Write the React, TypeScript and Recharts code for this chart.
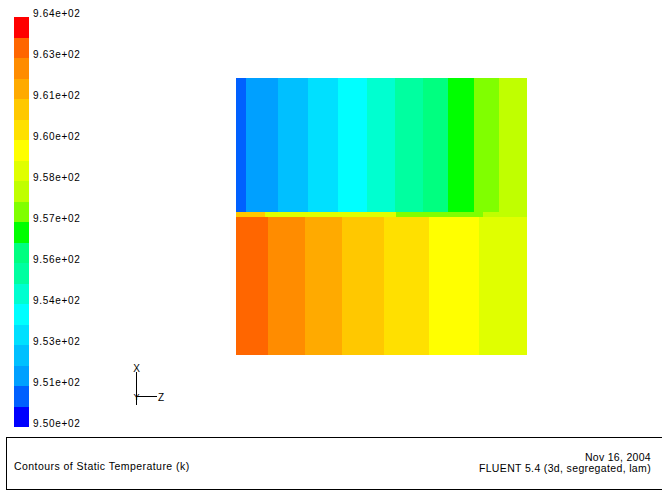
import React from 'react';
import { ComposedChart, XAxis, YAxis, ReferenceArea } from 'recharts';

// Temperature scale (K): 20 contour bands between min and max
const tempMin = 950.0;
const tempMax = 964.0;
const bandCount = 20;
const bandColors = [
  '#0000ff', '#0060ff', '#00a0ff', '#00c0ff', '#00e0ff',
  '#00ffff', '#00ffd0', '#00ffa0', '#00ff80', '#00ff00',
  '#80ff00', '#c0ff00', '#e0ff00', '#ffff00', '#ffe000',
  '#ffc800', '#ffaa00', '#ff8c00', '#ff6600', '#ff0000',
];
const legendTicks = [950.0, 951.4, 952.8, 954.2, 955.6, 957.0, 958.4, 959.8, 961.2, 962.6, 964.0];
const legendTickLabels = [
  '9.50e+02', '9.51e+02', '9.53e+02', '9.54e+02', '9.56e+02', '9.57e+02',
  '9.58e+02', '9.60e+02', '9.61e+02', '9.63e+02', '9.64e+02',
];

// Contour field (normalized z horizontal, x vertical); each cell holds a temperature band index
const upperZoneX = [0.515, 1.0];
const upperEdgesZ = [0, 0.036, 0.144, 0.247, 0.351, 0.450, 0.546, 0.643, 0.729, 0.818, 0.904, 1.0];
const upperBands = [1, 2, 3, 4, 5, 6, 7, 8, 9, 10, 11];

const interfaceZoneX = [0.499, 0.515];
const interfaceEdgesZ = [0, 0.1, 0.55, 0.85, 1.0];
const interfaceBands = [15, 12, 10, 11];

const lowerZoneX = [0, 0.499];
const lowerEdgesZ = [0, 0.110, 0.237, 0.364, 0.509, 0.663, 0.835, 1.0];
const lowerBands = [18, 17, 16, 15, 14, 13, 12];

const title = 'Contours of Static Temperature (k)';
const dateText = 'Nov 16, 2004';
const solverText = 'FLUENT 5.4 (3d, segregated, lam)';

const FONT = '"Liberation Sans", Arial, Helvetica, sans-serif';

const bandStep = (tempMax - tempMin) / bandCount;
const legendBands = bandColors.map((c, i) => ({
  t0: tempMin + i * bandStep,
  t1: tempMin + (i + 1) * bandStep,
  color: c,
}));

type Cell = { z0: number; z1: number; x0: number; x1: number; band: number };
function buildCells(edges: number[], bands: number[], zone: number[]): Cell[] {
  return bands.map((b, i) => ({ z0: edges[i], z1: edges[i + 1], x0: zone[0], x1: zone[1], band: b }));
}
const cells: Cell[] = [
  ...buildCells(upperEdgesZ, upperBands, upperZoneX),
  ...buildCells(interfaceEdgesZ, interfaceBands, interfaceZoneX),
  ...buildCells(lowerEdgesZ, lowerBands, lowerZoneX),
];

const LegendTick = (props: any) => {
  const { x, y, index } = props;
  return (
    <text x={x} y={y - 0.5} fontSize={10} fontFamily={FONT} fill="#000" letterSpacing={0.7} textAnchor="start">
      {legendTickLabels[index]}
    </text>
  );
};

export default function App() {
  return (
    <div style={{ position: 'absolute', left: 0, top: 0, width: 662, height: 495, overflow: 'hidden', background: '#fff' }}>
      {/* Colour legend */}
      <div style={{ position: 'absolute', left: 0, top: 0 }}>
        <ComposedChart width={100} height={440} data={legendBands} margin={{ top: 17, right: 0, bottom: 13, left: 14 }}>
          <XAxis type="number" dataKey="t0" domain={[0, 1]} hide />
          <YAxis
            type="number"
            orientation="right"
            domain={[tempMin, tempMax]}
            ticks={legendTicks}
            interval={0}
            width={71}
            axisLine={false}
            tickLine={false}
            tickSize={0}
            tickMargin={4}
            tick={<LegendTick />}
            allowDataOverflow
          />
          {legendBands.map((b, i) => (
            <ReferenceArea
              key={i}
              y1={b.t0}
              y2={b.t1}
              fill={b.color}
              fillOpacity={1}
              stroke="none"
              shapeRendering="crispEdges"
              ifOverflow="visible"
            />
          ))}
        </ComposedChart>
      </div>

      {/* Contour plot */}
      <div style={{ position: 'absolute', left: 236, top: 78 }}>
        <ComposedChart width={291} height={277} data={cells} margin={{ top: 0, right: 0, bottom: 0, left: 0 }}>
          <XAxis type="number" dataKey="z0" domain={[0, 1]} hide allowDataOverflow />
          <YAxis type="number" dataKey="x0" domain={[0, 1]} hide allowDataOverflow />
          {cells.map((c, i) => (
            <ReferenceArea
              key={i}
              x1={c.z0}
              x2={c.z1}
              y1={c.x0}
              y2={c.x1}
              fill={bandColors[c.band]}
              fillOpacity={1}
              stroke="none"
              shapeRendering="crispEdges"
              ifOverflow="visible"
            />
          ))}
        </ComposedChart>
      </div>

      {/* Axis triad */}
      <svg style={{ position: 'absolute', left: 120, top: 355 }} width={60} height={60}>
        <line x1={16.5} y1={17} x2={16.5} y2={50} stroke="#000" strokeWidth={1} />
        <line x1={16.5} y1={41.5} x2={37} y2={41.5} stroke="#000" strokeWidth={1} />
        <text x={16.5} y={17} fontSize={10} fontFamily={FONT} textAnchor="middle" fill="#000">X</text>
        <text x={16.5} y={45} fontSize={9} fontFamily={FONT} textAnchor="middle" fill="#000">Y</text>
        <text x={38} y={46} fontSize={10} fontFamily={FONT} textAnchor="start" fill="#000">Z</text>
      </svg>

      {/* Caption box */}
      <div
        style={{
          position: 'absolute',
          left: 6,
          top: 437,
          width: 662,
          height: 53,
          borderTop: '1px solid #000',
          borderLeft: '1px solid #000',
          borderBottom: '1px solid #000',
          boxSizing: 'border-box',
        }}
      />
      <svg style={{ position: 'absolute', left: 0, top: 430 }} width={662} height={65}>
        <text x={14} y={39.5} fontSize={10.5} fontFamily={FONT} fill="#000" letterSpacing={0.45}>{title}</text>
        <text x={651} y={30.5} fontSize={10.5} fontFamily={FONT} fill="#000" textAnchor="end" letterSpacing={0.3}>{dateText}</text>
        <text x={651} y={42} fontSize={10.5} fontFamily={FONT} fill="#000" textAnchor="end" letterSpacing={0.35}>{solverText}</text>
      </svg>
    </div>
  );
}
